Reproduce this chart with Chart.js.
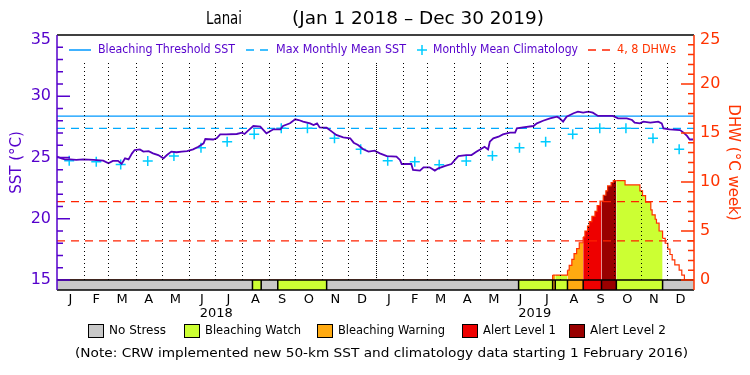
<!DOCTYPE html>
<html>
<head>
<meta charset="utf-8">
<script src="https://cdn.jsdelivr.net/npm/chart.js@4.4.1/dist/chart.umd.min.js"></script>
<style>
  html, body { margin: 0; padding: 0; background: #fff; }
</style>
</head>
<body>
<canvas id="chart" width="750" height="375"></canvas>
<script>
// all x values are days counted from Jan 1 2018
const monthLetters = ["J", "F", "M", "A", "M", "J", "J", "A", "S", "O", "N", "D"];
const yearLabels = ["2018", "2019"];
const sstTicks = [15, 20, 25, 30, 35];
const dhwTicks = [0, 5, 10, 15, 20, 25];

const sstDays = [0, 5, 9, 15, 22, 30, 42, 53, 59, 64, 70, 74, 78, 82, 86, 89, 95, 99, 105, 110, 116, 122, 126, 131, 137, 143, 149, 156, 162, 168, 170, 179, 183, 187, 194, 206, 212, 215, 219, 225, 233, 240, 248, 256, 259, 267, 273, 277, 282, 290, 294, 298, 301, 309, 315, 320, 328, 336, 340, 345, 351, 357, 364, 370, 378, 389, 393, 395, 406, 408, 416, 420, 427, 433, 437, 445, 452, 456, 460, 469, 475, 481, 485, 490, 494, 496, 500, 506, 511, 519, 525, 527, 534, 546, 550, 557, 565, 573, 576, 580, 584, 592, 597, 603, 609, 614, 620, 630, 637, 643, 653, 659, 662, 668, 672, 680, 689, 693, 695, 702, 714, 718, 722, 725, 729];
const sstValues = [25.07, 24.93, 24.85, 24.85, 24.80, 24.85, 24.80, 24.74, 24.53, 24.72, 24.72, 24.47, 24.93, 24.85, 25.34, 25.61, 25.66, 25.48, 25.52, 25.34, 25.20, 24.93, 25.20, 25.48, 25.43, 25.48, 25.52, 25.66, 25.88, 26.16, 26.51, 26.47, 26.57, 26.89, 26.89, 26.92, 27.03, 26.92, 27.19, 27.57, 27.52, 26.97, 27.30, 27.30, 27.57, 27.79, 28.12, 28.06, 27.93, 27.79, 27.65, 27.79, 27.46, 27.43, 27.11, 26.84, 26.65, 26.57, 26.21, 26.02, 25.67, 25.48, 25.56, 25.34, 25.12, 25.07, 24.80, 24.47, 24.47, 23.98, 23.93, 24.20, 24.20, 23.93, 24.12, 24.31, 24.47, 24.80, 25.12, 25.20, 25.20, 25.48, 25.66, 25.88, 25.66, 26.29, 26.57, 26.70, 26.89, 27.03, 27.03, 27.38, 27.46, 27.57, 27.79, 28.00, 28.20, 28.33, 28.20, 27.93, 28.33, 28.61, 28.74, 28.66, 28.74, 28.66, 28.39, 28.39, 28.39, 28.20, 28.20, 28.06, 27.84, 27.79, 27.93, 27.84, 27.93, 27.79, 27.38, 27.30, 27.24, 27.03, 26.76, 26.47, 26.47];

// monthly mean climatology, one value per month, mid-month
const climValues = [24.74, 24.66, 24.42, 24.71, 25.13, 25.80, 26.29, 26.89, 27.38, 27.38, 26.57, 25.67,
                    24.74, 24.66, 24.40, 24.71, 25.15, 25.80, 26.29, 26.89, 27.38, 27.38, 26.57, 25.67];
const maxMonthlyMean = 27.38;
const bleachThreshold = 28.38;
const dhwLines = [4, 8];

const dhwDays = [0, 568, 571, 585, 587, 590, 592.5, 595.5, 598.5, 603, 605, 608, 610, 613, 616.5, 619, 622.3, 624, 626, 629, 631, 635, 637.5, 641, 651, 668, 671, 674.5, 680.5, 682, 685.5, 687, 690, 694, 697, 700, 702.5, 705, 708, 713, 716, 719, 730];
const dhwValues = [0, 0.5, 0.5, 1.0, 1.5, 2.1, 2.7, 3.2, 3.8, 4.4, 5.0, 5.5, 5.95, 6.5, 7.0, 7.6, 8.05, 8.05, 8.65, 9.1, 9.6, 9.95, 10.15, 10.15, 9.7, 9.1, 8.6, 7.95, 7.15, 6.65, 6.2, 5.8, 5.0, 4.25, 3.75, 3.15, 2.6, 2.05, 1.55, 1.0, 0.5, 0, 0];

// stress level runs: 0 no stress, 1 watch, 2 warning, 3 alert 1, 4 alert 2
const stressStart = [0, 224, 234, 253, 309, 529, 568, 571, 585, 603, 624, 641, 694];
const stressLevel = [0, 1, 0, 1, 0, 1, 2, 1, 2, 3, 4, 1, 0];
const stressNames = ["No Stress", "Bleaching Watch", "Bleaching Warning", "Alert Level 1", "Alert Level 2"];
const stressColors = ["#c8c8c8", "#ccff33", "#ffaa11", "#ee0000", "#990000"];

const PURPLE = "#5500cc";
const ORANGE = "#ff3300";
const FONT = "DejaVu Sans";

const t0 = Date.UTC(2018, 0, 1);
const dayOf = (y, m, d) => (Date.UTC(y, m, d) - t0) / 864e5;
const monthStarts = [];
for (let m = 0; m <= 24; m++) monthStarts.push(dayOf(2018, m, 1));
const monthMids = monthStarts.slice(0, 24).map((d, i) => (d + monthStarts[i + 1]) / 2);
const climDays = monthStarts.slice(0, 24).map((d) => d + 14);
const endDay = monthStarts[24];

function stressAt(day) {
    let lvl = 0;
    stressStart.forEach((s, i) => { if (day >= s - 0.01) lvl = stressLevel[i]; });
    return lvl;
}

const pts = (xs, ys) => xs.map((x, i) => ({ x: x, y: ys[i] }));
const flat = (v) => [{ x: 0, y: v }, { x: endDay, y: v }];

// the top tick label sits a few pixels below the frame, like the original plot
function tickSetter(values, nudge) {
    return (s) => {
        s.ticks = values.map((v) => ({ value: v === s.max ? v - nudge : v }));
    };
}

// stretch text to a given width, like the condensed plot font
function fitText(ctx, text, x, y, w) {
    const m = ctx.measureText(text).width;
    ctx.save();
    ctx.translate(x, y);
    ctx.scale(w / m, 1);
    ctx.fillText(text, 0, 0);
    ctx.restore();
}

const crwDecor = {
    id: "crwDecor",
    afterDatasetsDraw(chart) {
        const { ctx, chartArea: a, scales: { x, y, yDhw } } = chart;
        const base = yDhw.getPixelForValue(0);
        ctx.save();

        // dotted month lines
        ctx.strokeStyle = "#000";
        ctx.lineWidth = 1;
        monthStarts.slice(1, 24).forEach((d) => {
            const px = Math.round(x.getPixelForValue(d)) + 0.5;
            ctx.setLineDash(d === 365 ? [1, 1] : [1, 3]);
            ctx.beginPath();
            ctx.moveTo(px, 63);
            ctx.lineTo(px, base);
            ctx.stroke();
        });
        ctx.setLineDash([]);

        // stress bar under the plot
        stressStart.forEach((s, i) => {
            const e = i + 1 < stressStart.length ? stressStart[i + 1] : endDay;
            const x0 = x.getPixelForValue(s), x1 = x.getPixelForValue(e);
            ctx.fillStyle = stressColors[stressLevel[i]];
            ctx.fillRect(x0, base, x1 - x0, a.bottom - base);
        });
        ctx.strokeStyle = "#000";
        ctx.lineWidth = 1.5;
        ctx.beginPath();
        ctx.moveTo(a.left, base); ctx.lineTo(a.right, base);
        ctx.moveTo(a.left, a.bottom); ctx.lineTo(a.right, a.bottom);
        stressStart.slice(1).forEach((s) => {
            const px = x.getPixelForValue(s);
            ctx.moveTo(px, base); ctx.lineTo(px, a.bottom);
        });
        ctx.stroke();

        // frame: top black, left purple, right orange
        ctx.beginPath();
        ctx.moveTo(a.left, a.top); ctx.lineTo(a.right, a.top);
        ctx.stroke();
        ctx.strokeStyle = PURPLE;
        ctx.beginPath();
        ctx.moveTo(a.left, a.top); ctx.lineTo(a.left, a.bottom);
        for (let v = 15; v <= 34; v++) {
            const py = y.getPixelForValue(v);
            ctx.moveTo(a.left, py); ctx.lineTo(a.left + (v % 5 === 0 ? 13 : 6), py);
        }
        ctx.stroke();
        ctx.strokeStyle = ORANGE;
        ctx.beginPath();
        ctx.moveTo(a.right, a.top); ctx.lineTo(a.right, a.bottom);
        for (let v = 0; v <= 24; v++) {
            const py = yDhw.getPixelForValue(v);
            ctx.moveTo(a.right, py); ctx.lineTo(a.right - (v % 5 === 0 ? 13 : 6), py);
        }
        ctx.stroke();
        ctx.restore();
    },
    afterDraw(chart) {
        const { ctx, scales: { x } } = chart;
        ctx.save();
        ctx.textBaseline = "middle";
        ctx.textAlign = "left";

        // title
        ctx.fillStyle = "#000";
        ctx.font = "17px " + FONT;
        fitText(ctx, "Lanai", 206, 20, 36);
        fitText(ctx, "(Jan 1 2018 \u2013 Dec 30 2019)", 292, 20, 252);

        // top legend
        const ly = 50;
        ctx.lineWidth = 1.5;
        ctx.strokeStyle = "#0099ff";
        ctx.beginPath(); ctx.moveTo(69, ly); ctx.lineTo(91, ly); ctx.stroke();
        ctx.strokeStyle = "#00aaff";
        ctx.setLineDash([8, 6]);
        ctx.beginPath(); ctx.moveTo(246, ly); ctx.lineTo(270, ly); ctx.stroke();
        ctx.strokeStyle = "#ff2200";
        ctx.beginPath(); ctx.moveTo(588, ly); ctx.lineTo(610, ly); ctx.stroke();
        ctx.setLineDash([]);
        ctx.strokeStyle = "#00ccff";
        ctx.beginPath();
        ctx.moveTo(417, ly); ctx.lineTo(427, ly);
        ctx.moveTo(422, ly - 5); ctx.lineTo(422, ly + 5);
        ctx.stroke();
        ctx.font = "12px " + FONT;
        ctx.fillStyle = PURPLE;
        fitText(ctx, "Bleaching Threshold SST", 98, ly, 137);
        fitText(ctx, "Max Monthly Mean SST", 276, ly, 130);
        fitText(ctx, "Monthly Mean Climatology", 433, ly, 145);
        ctx.fillStyle = ORANGE;
        fitText(ctx, "4, 8 DHWs", 617, ly, 59);

        // years under the month letters
        ctx.fillStyle = "#000";
        ctx.font = "13px " + FONT;
        ctx.textAlign = "center";
        yearLabels.forEach((t, i) => {
            const mid = (monthStarts[i * 12] + monthStarts[i * 12 + 12]) / 2;
            ctx.fillText(t, x.getPixelForValue(mid), 314);
        });
        ctx.textAlign = "left";

        // stress legend
        const boxX = [88, 184, 317, 462, 569];
        const textW = [57, 96, 107, 73, 76];
        ctx.lineWidth = 1;
        ctx.strokeStyle = "#000";
        stressNames.forEach((n, i) => {
            ctx.fillStyle = stressColors[i];
            ctx.fillRect(boxX[i] + 0.5, 324.5, 15, 13);
            ctx.strokeRect(boxX[i] + 0.5, 324.5, 15, 13);
            ctx.fillStyle = "#000";
            fitText(ctx, n, boxX[i] + 21, 331, textW[i]);
        });
        fitText(ctx, "(Note: CRW implemented new 50-km SST and climatology data starting 1 February 2016)", 75, 354, 613);
        ctx.restore();
    }
};

new Chart(document.getElementById("chart"), {
    type: "line",
    data: {
        datasets: [
            {
                label: "SST",
                data: pts(sstDays, sstValues),
                yAxisID: "y",
                borderColor: "#5500bb",
                borderWidth: 1.8,
                pointRadius: 0,
                tension: 0,
            },
            {
                label: "Monthly Mean Climatology",
                data: pts(climDays, climValues),
                yAxisID: "y",
                showLine: false,
                pointStyle: "cross",
                pointRadius: 5,
                pointBorderWidth: 1.5,
                pointBorderColor: "#00ccff",
            },
            {
                label: "Bleaching Threshold SST",
                data: flat(bleachThreshold),
                yAxisID: "y",
                borderColor: "#0099ff",
                borderWidth: 1.2,
                pointRadius: 0,
            },
            {
                label: "Max Monthly Mean SST",
                data: flat(maxMonthlyMean),
                yAxisID: "y",
                borderColor: "#00aaff",
                borderWidth: 1.2,
                borderDash: [8, 6],
                pointRadius: 0,
            },
            ...dhwLines.map((v) => ({
                label: v + " DHW",
                data: flat(v),
                yAxisID: "yDhw",
                borderColor: "#ff2200",
                borderWidth: 1.2,
                borderDash: [8, 6],
                pointRadius: 0,
            })),
            {
                label: "DHW",
                data: pts(dhwDays, dhwValues),
                yAxisID: "yDhw",
                stepped: true,
                borderColor: ORANGE,
                borderWidth: 1.2,
                pointRadius: 0,
                fill: "origin",
                backgroundColor: "rgba(0,0,0,0)",
                segment: {
                    backgroundColor: (c) => {
                        const l = stressAt(c.p0.parsed.x);
                        return l ? stressColors[l] : "rgba(0,0,0,0)";
                    },
                },
            },
        ],
    },
    options: {
        responsive: false,
        animation: false,
        layout: { padding: { top: 35, bottom: 65, left: 0, right: 0 } },
        plugins: { legend: { display: false }, tooltip: { enabled: false } },
        scales: {
            x: {
                type: "linear",
                min: 0,
                max: endDay,
                bounds: "data",
                grid: { display: false, drawTicks: false },
                border: { display: false },
                afterBuildTicks: (s) => { s.ticks = monthMids.map((v) => ({ value: v })); },
                afterFit: (s) => { s.height = 20; },
                ticks: {
                    autoSkip: false,
                    maxRotation: 0,
                    padding: 2,
                    color: "#000",
                    font: { family: FONT, size: 13 },
                    callback: (v, i) => monthLetters[i % 12],
                },
            },
            y: {
                type: "linear",
                position: "left",
                min: 14.1837,
                max: 35,
                bounds: "data",
                grid: { display: false, drawTicks: false },
                border: { display: false },
                afterBuildTicks: tickSetter(sstTicks, 0.4),
                afterFit: (s) => { s.width = 57; },
                ticks: {
                    padding: 6,
                    color: PURPLE,
                    font: { family: FONT, size: 16 },
                    callback: (v, i) => String(sstTicks[i]),
                },
                title: {
                    display: true,
                    text: "SST (\u00b0C)",
                    color: PURPLE,
                    font: { family: FONT, size: 15 },
                    padding: { top: 8, bottom: 0 },
                },
            },
            yDhw: {
                type: "linear",
                position: "right",
                min: -1.0204,
                max: 25,
                bounds: "data",
                grid: { display: false, drawTicks: false },
                border: { display: false },
                afterBuildTicks: tickSetter(dhwTicks, 0.5),
                afterFit: (s) => { s.width = 56; },
                ticks: {
                    padding: 6,
                    color: ORANGE,
                    font: { family: FONT, size: 16 },
                    callback: (v, i) => String(dhwTicks[i]),
                },
                title: {
                    display: true,
                    text: "DHW (\u00b0C week)",
                    color: ORANGE,
                    font: { family: FONT, size: 15 },
                    padding: { top: 8, bottom: 0 },
                },
            },
        },
    },
    plugins: [crwDecor],
});
</script>
</body>
</html>
